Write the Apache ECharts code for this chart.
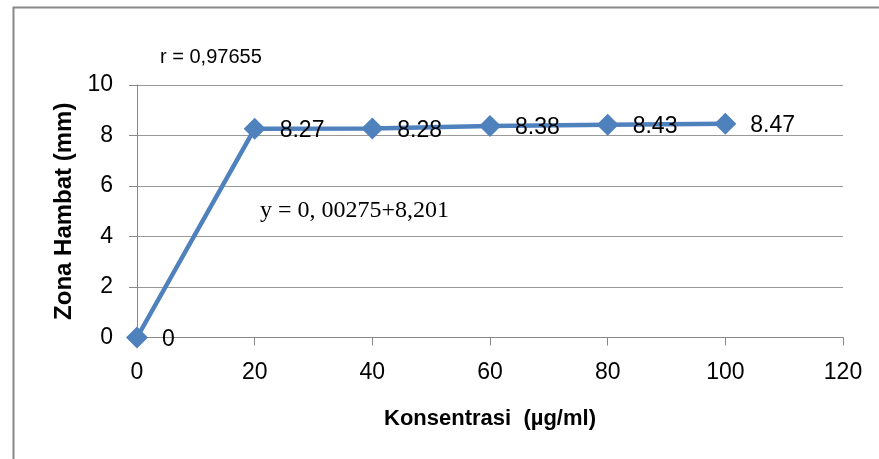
<!DOCTYPE html>
<html>
<head>
<meta charset="utf-8">
<script src="https://cdn.jsdelivr.net/npm/echarts@6/dist/echarts.min.js"></script>
<style>html,body{margin:0;padding:0;background:#fff;}#c{width:879px;height:459px;}</style>
</head>
<body>
<div id="c"></div>
<script>
var concentrations = [0, 20, 40, 60, 80, 100];
var zoneValues = [0, 8.27, 8.28, 8.38, 8.43, 8.47];
var xTitle = 'Konsentrasi  (µg/ml)';
var yTitle = 'Zona Hambat (mm)';
var rText = 'r = 0,97655';
var eqText = 'y = 0, 00275+8,201';

var chart = echarts.init(document.getElementById('c'), null, {renderer: 'canvas'});
var sans = 'Liberation Sans';
chart.setOption({
  animation: false,
  backgroundColor: '#fff',
  grid: {left: 137, right: 36, top: 85, bottom: 121.5, containLabel: false},
  xAxis: {
    type: 'value', min: 0, max: 120, interval: 20,
    name: xTitle, nameLocation: 'middle', nameGap: 70,
    nameTextStyle: {fontFamily: sans, fontWeight: 'bold', fontSize: 22, color: '#000'},
    axisLine: {show: true, lineStyle: {color: '#888', width: 1}},
    axisTick: {show: true, length: 8, lineStyle: {color: '#888'}},
    axisLabel: {fontFamily: sans, fontSize: 23, color: '#000', margin: 24},
    splitLine: {show: false}
  },
  yAxis: {
    type: 'value', min: 0, max: 10, interval: 2,
    name: yTitle, nameLocation: 'middle', nameGap: 61,
    nameTextStyle: {fontFamily: sans, fontWeight: 'bold', fontSize: 24, color: '#000'},
    axisLine: {show: true, lineStyle: {color: '#888', width: 1}},
    axisTick: {show: true, length: 8, lineStyle: {color: '#888'}},
    axisLabel: {fontFamily: sans, fontSize: 23, color: '#000', margin: 24},
    splitLine: {show: true, lineStyle: {color: '#999', width: 1}}
  },
  series: [{
    type: 'line',
    data: concentrations.map(function (x, i) { return [x, zoneValues[i]]; }),
    symbol: 'diamond', symbolSize: 22,
    lineStyle: {color: '#4F81BD', width: 4.5},
    itemStyle: {color: '#4F81BD'},
    label: {
      show: true, position: 'right', distance: 14, offset: [0, 2],
      fontFamily: sans, fontSize: 23, color: '#000',
      formatter: function (p) { return String(p.value[1]); }
    }
  }],
  graphic: [
    {type: 'rect', left: 11, top: 5, shape: {width: 900, height: 500}, style: {fill: 'none', stroke: '#888', lineWidth: 2}, silent: true},
    {type: 'text', left: 160, top: 47, style: {text: rText, font: '20px "Liberation Sans"', fill: '#000'}},
    {type: 'text', left: 260, top: 199, style: {text: eqText, font: '24px "Liberation Serif"', fill: '#000'}}
  ]
});
</script>
</body>
</html>
